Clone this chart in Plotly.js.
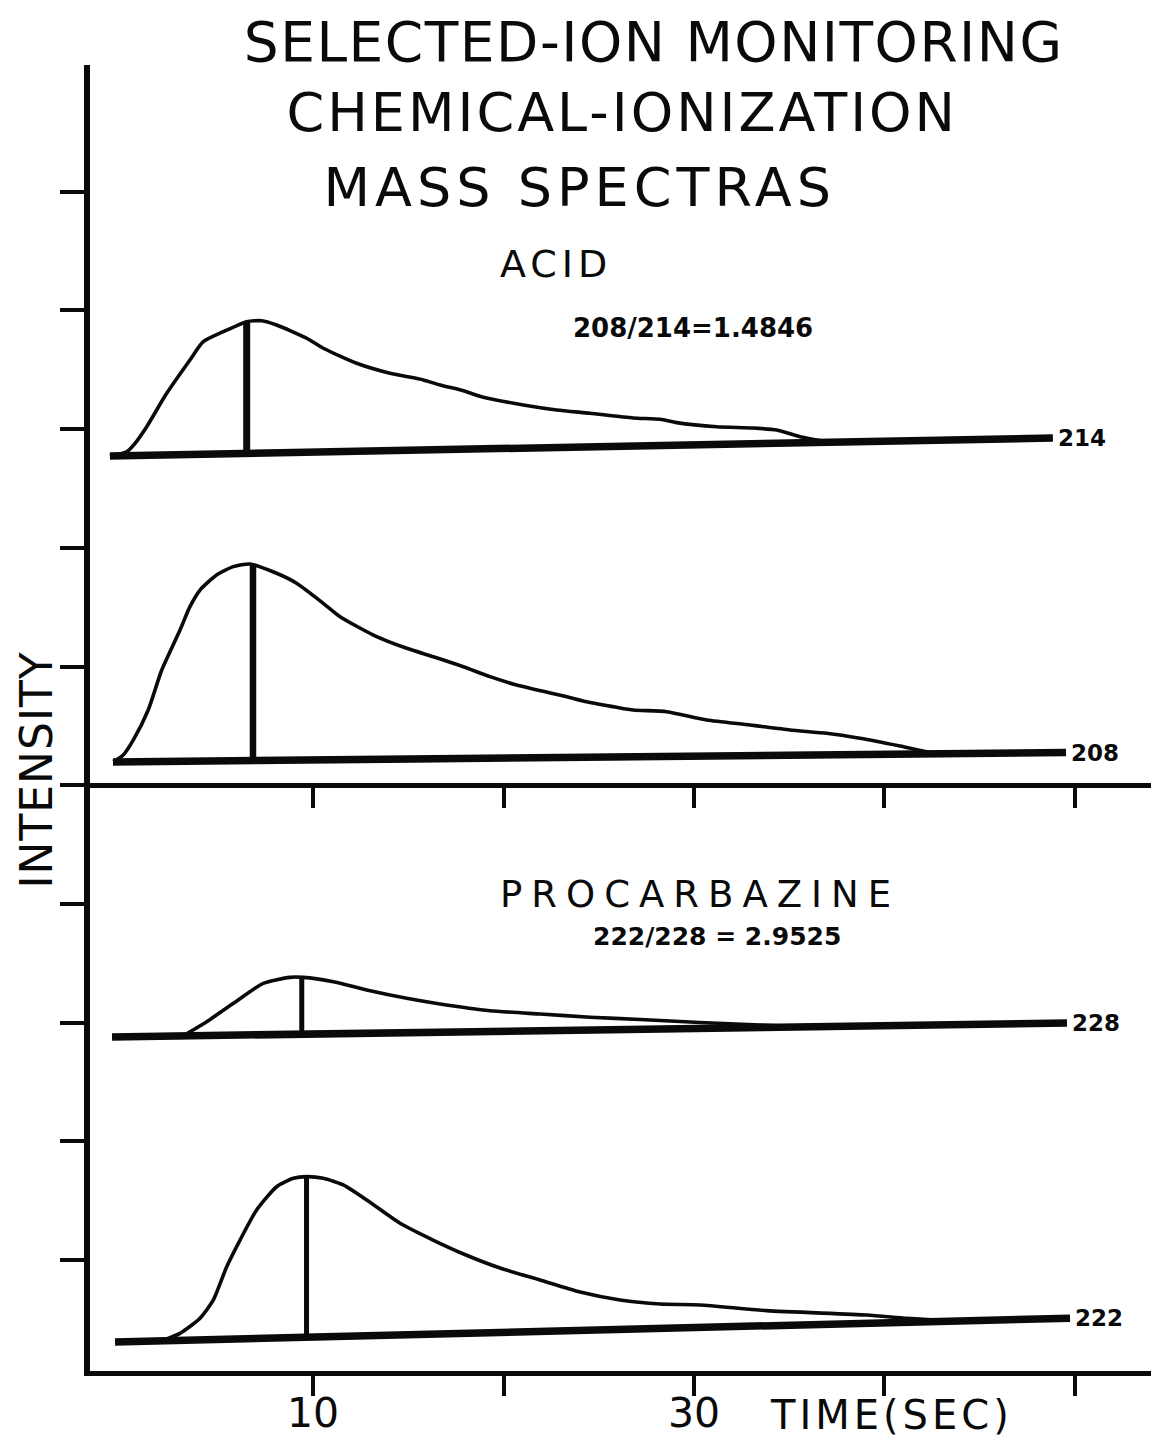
<!DOCTYPE html>
<html>
<head>
<meta charset="utf-8">
<script src="https://cdn.plot.ly/plotly-3.0.1.min.js"></script>
<style>
  html, body { margin: 0; padding: 0; background: #fff; }
  #chart { width: 1151px; height: 1437px; }
</style>
</head>
<body>
<div id="chart"></div>
<script>
// Selected-ion monitoring traces: retention time (s) vs. intensity (axis units)
const ions = ['214', '208', '228', '222'];

const time214 = [-0.66, 0.22, 0.66, 1.27, 2.32, 3.54, 4.24, 5.29, 6.52, 7.31, 8.09, 9.67, 10.54, 12.29, 14.04, 15.79, 16.67, 17.89, 18.94, 21.04, 22.79, 24.54, 26.80, 28.22, 29.09, 31.19, 33.10, 34.34, 35.56, 36.44, 37.14];
const level214 = [7.774, 7.810, 7.881, 8.021, 8.302, 8.583, 8.737, 8.821, 8.906, 8.914, 8.878, 8.766, 8.682, 8.555, 8.471, 8.415, 8.372, 8.324, 8.269, 8.204, 8.162, 8.134, 8.094, 8.083, 8.055, 8.021, 8.010, 7.993, 7.937, 7.909, 7.890];

const time208 = [-0.48, 0.04, 0.57, 1.35, 2.06, 3.02, 3.54, 4.07, 4.94, 5.82, 6.69, 8.09, 9.14, 10.54, 11.42, 13.17, 14.92, 16.32, 17.89, 19.29, 20.69, 23.32, 24.37, 25.94, 26.81, 28.57, 30.67, 32.94, 35.04, 36.97, 38.71, 40.81, 42.22, 42.91];
const level208 = [5.199, 5.255, 5.382, 5.634, 5.971, 6.308, 6.505, 6.645, 6.772, 6.842, 6.864, 6.786, 6.702, 6.533, 6.420, 6.266, 6.154, 6.083, 5.999, 5.915, 5.845, 5.746, 5.704, 5.657, 5.634, 5.620, 5.550, 5.508, 5.466, 5.438, 5.396, 5.331, 5.283, 5.264];

const time228 = [3.19, 4.42, 5.82, 7.39, 8.79, 9.49, 11.07, 12.82, 14.92, 16.67, 19.29, 21.92, 24.54, 27.17, 30.31, 33.46, 35.56];
const level228 = [2.890, 3.008, 3.163, 3.332, 3.382, 3.382, 3.345, 3.276, 3.206, 3.158, 3.101, 3.073, 3.046, 3.027, 3.002, 2.981, 2.966];

const time222 = [2.14, 3.02, 4.07, 4.77, 5.47, 6.17, 7.04, 8.09, 8.97, 9.67, 10.54, 11.59, 12.82, 14.57, 16.30, 18.03, 19.82, 21.92, 24.02, 26.12, 28.22, 30.31, 33.82, 39.07, 41.17, 43.44, 44.32];
const level222 = [0.325, 0.383, 0.510, 0.664, 0.944, 1.169, 1.422, 1.618, 1.689, 1.703, 1.689, 1.633, 1.506, 1.310, 1.169, 1.043, 0.933, 0.832, 0.731, 0.664, 0.630, 0.622, 0.574, 0.537, 0.510, 0.489, 0.486];

// Baseline drawn under each peak (start/end time and level), in ion order
const baselineStartTime = [-0.66, -0.50, -0.55, -0.39];
const baselineEndTime = [48.84, 49.53, 49.58, 49.74];
const baselineStartLevel = [7.774, 5.196, 2.880, 0.310];
const baselineEndLevel = [7.926, 5.276, 2.997, 0.510];

// Retention time marked by the vertical peak line, in ion order
const peakTime = [6.52, 6.85, 9.41, 9.66];

const timeTicks = [10, 20, 30, 40, 50];
const timeTickText = ['10', '', '30', '', ''];
const intensityTicks = [1, 2, 3, 4, 5, 6, 7, 8, 9, 10];

const curveTimes = [time214, time208, time228, time222];
const curveLevels = [level214, level208, level228, level222];
const peakWidth = [7, 6.5, 5, 5];

const FONT = 'DejaVu Sans, Liberation Sans, sans-serif';
const INK = '#0a0a0a';

function interp(xs, ys, x) {
  for (let i = 0; i < xs.length - 1; i++) {
    if (x >= xs[i] && x <= xs[i + 1]) {
      const f = (x - xs[i]) / (xs[i + 1] - xs[i]);
      return ys[i] + f * (ys[i + 1] - ys[i]);
    }
  }
  return x < xs[0] ? ys[0] : ys[ys.length - 1];
}

const traces = [];
ions.forEach((ion, i) => {
  const bx = [baselineStartTime[i], baselineEndTime[i]];
  const by = [baselineStartLevel[i], baselineEndLevel[i]];
  traces.push({
    type: 'scatter', mode: 'lines', name: ion + ' baseline',
    x: bx, y: by, line: { color: INK, width: 7.5 }, hoverinfo: 'skip'
  });
  traces.push({
    type: 'scatter', mode: 'lines', name: 'm/z ' + ion,
    x: curveTimes[i], y: curveLevels[i],
    line: { color: INK, width: 3.6, shape: 'spline', smoothing: 0.6 }
  });
  const t = peakTime[i];
  traces.push({
    type: 'scatter', mode: 'lines', name: ion + ' peak',
    x: [t, t],
    y: [interp(bx, by, t), interp(curveTimes[i], curveLevels[i], t)],
    line: { color: INK, width: peakWidth[i] }, hoverinfo: 'skip'
  });
});
// carrier for the middle time axis
traces.push({ type: 'scatter', mode: 'lines', x: [], y: [], xaxis: 'x2', yaxis: 'y', hoverinfo: 'skip' });

const W = 1151, H = 1437;
const M = { l: 90, r: 0, t: 65, b: 66 };
const yRange = [0.0657, 11.068];
const xRange = [-1.706, 53.99];
const midPos = (5 - yRange[0]) / (yRange[1] - yRange[0]);

// paper coordinates from page position
const px = x => (x - M.l) / (W - M.l - M.r);
const py = y => (H - M.b - y) / (H - M.t - M.b);

function txt(text, x, y, size, opts) {
  return Object.assign({
    text: text, xref: 'paper', yref: 'paper', x: px(x), y: py(y),
    xanchor: 'center', yanchor: 'middle', showarrow: false,
    font: { family: FONT, size: size, color: INK }
  }, opts || {});
}

const annotations = [
  txt('SELECTED-ION MONITORING', 653, 42, 55),
  txt('CHEMICAL-IONIZATION', 622, 113, 54),
  txt('MASS SPECTRAS', 579, 187, 54),
  txt('ACID', 556, 264, 38),
  txt('<b>208/214=1.4846</b>', 693, 328, 26),
  txt('PROCARBAZINE', 700, 895, 37),
  txt('<b>222/228 = 2.9525</b>', 717, 936, 25),
  txt('INTENSITY', 36, 770, 44, { textangle: -90 }),
  txt('TIME(SEC)', 768, 1415, 40, { xanchor: 'left', align: 'left' })
];
// letter spacing (px) for the hand-lettered headings, by annotation index
const spacing = { 0: 1.5, 1: 3, 2: 5, 3: 5, 5: 9, 7: 1, 8: 4 };

ions.forEach((ion, i) => {
  annotations.push({
    text: '<b>' + ion + '</b>', xref: 'x', yref: 'y',
    x: baselineEndTime[i], y: baselineEndLevel[i],
    xanchor: 'left', yanchor: 'middle', xshift: 3, showarrow: false,
    font: { family: FONT, size: 23, color: INK }
  });
});

const axisLine = { showline: true, linecolor: INK, showgrid: false, zeroline: false, fixedrange: true };

const layout = {
  width: W, height: H, margin: M,
  paper_bgcolor: '#fff', plot_bgcolor: '#fff', showlegend: false,
  xaxis: Object.assign({}, axisLine, {
    range: xRange, linewidth: 5, ticks: 'outside', ticklen: 20, tickwidth: 4, tickcolor: INK,
    tickvals: timeTicks, ticktext: timeTickText, ticklabelstandoff: -18,
    tickfont: { family: FONT, size: 41, color: INK }
  }),
  xaxis2: Object.assign({}, axisLine, {
    overlaying: 'x', matches: 'x', anchor: 'free', position: midPos, side: 'bottom',
    range: xRange, linewidth: 5, ticks: 'outside', ticklen: 20, tickwidth: 4, tickcolor: INK,
    tickvals: timeTicks, showticklabels: false
  }),
  yaxis: Object.assign({}, axisLine, {
    range: yRange, linewidth: 6, ticks: 'outside', ticklen: 24, tickwidth: 4, tickcolor: INK,
    tickvals: intensityTicks, showticklabels: false
  }),
  annotations: annotations
};

Plotly.newPlot('chart', traces, layout, { displayModeBar: false, staticPlot: true }).then(gd => {
  gd.querySelectorAll('.annotation').forEach(g => {
    const idx = +g.getAttribute('data-index');
    if (spacing[idx] !== undefined) {
      const t = g.querySelector('text');
      if (t) t.style.letterSpacing = spacing[idx] + 'px';
    }
  });
});
</script>
</body>
</html>
